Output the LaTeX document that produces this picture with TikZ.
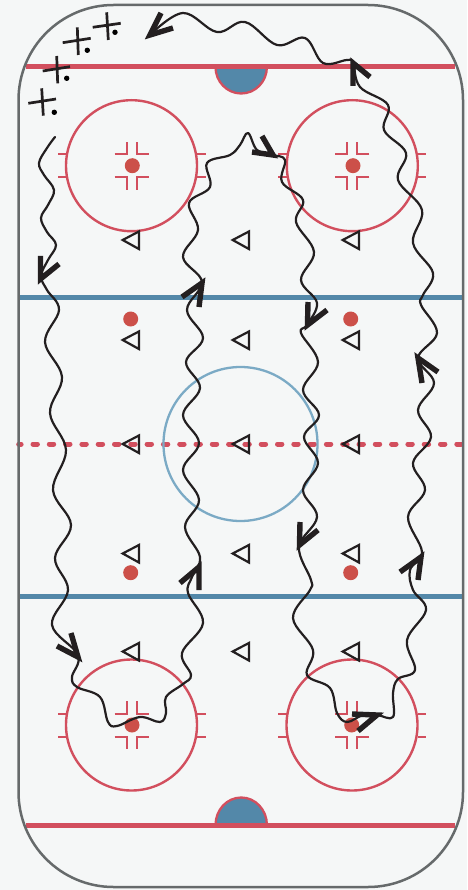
\documentclass[tikz,border=0pt]{standalone}
\definecolor{bgc}{HTML}{F5F7F7}
\definecolor{rinkedge}{HTML}{666A6B}
\definecolor{redl}{HTML}{D24F5E}
\definecolor{bluel}{HTML}{5388A9}
\definecolor{bluec}{HTML}{7BAAC5}
\definecolor{dotc}{HTML}{CC5049}
\definecolor{ink}{HTML}{231F20}
\tikzset{
  rink/.style={draw=rinkedge,line width=2.5pt,rounded corners=95pt},
  redline/.style={draw=redl,line width=5pt},
  blueline/.style={draw=bluel,line width=5pt},
  centerdash/.style={draw=redl,line width=5pt,line cap=round,dash pattern=on 4.4pt off 11.9pt,dash phase=2pt},
  crease/.style={draw=redl,fill=bluel,line width=2.3pt},
  fcircle/.style={draw=redl,line width=2.4pt},
  hash/.style={draw=redl,line width=2pt},
  rdot/.style={fill=dotc},
  tri/.style={draw=ink,line width=2.2pt,miter limit=10},
  wave/.style={draw=ink,line width=2.2pt,line cap=round,line join=round},
  thickwave/.style={draw=ink,line width=3pt,line cap=round,line join=round},
  barb/.style={draw=ink,line width=5.4pt,line join=miter,miter limit=10},
  crossl/.style={draw=ink,line width=2.7pt},
}
\begin{document}
\begin{tikzpicture}[x=1pt,y=-1pt]
\useasboundingbox (0,0) rectangle (467,890);
\fill[bgc] (0,0) rectangle (467,890);
% goal creases
\draw[crease] (215.5,67) arc[start angle=180,end angle=360,x radius=25.7pt,y radius=26.5pt] -- cycle;
\draw[crease] (215.5,825) arc[start angle=180,end angle=360,x radius=25.7pt,y radius=-27.5pt] -- cycle;
% lines
\draw[redline] (26,67) -- (455,67);
\draw[redline] (26,825) -- (455,825);
\draw[blueline] (19,297) -- (463,297);
\draw[blueline] (19,596) -- (463,596);
\draw[centerdash] (18.7,444) -- (467,444);
\draw[bluec,line width=2.3pt] (240.5,444) circle[radius=77pt];
% rink
\draw[rink] (18.5,5) rectangle (463,887);
% face-off circles
\foreach \cx/\cy in {131.5/165.7,352.3/165.7,131.5/725,352/725}{
  \draw[fcircle] (\cx,\cy) circle[radius=65.5pt];
  \foreach \sx in {-1,1}{
    \foreach \sy in {-1,1}{
      \draw[hash] ([xshift=\sx*65.5pt,yshift=\sy*-11.5pt]\cx pt,-\cy pt) -- ([xshift=\sx*74pt,yshift=\sy*-11.5pt]\cx pt,-\cy pt);
      \draw[hash] ([xshift=\sx*17pt,yshift=\sy*-11.5pt]\cx pt,-\cy pt) -- ([xshift=\sx*5pt,yshift=\sy*-11.5pt]\cx pt,-\cy pt) -- ([xshift=\sx*5pt,yshift=\sy*-24pt]\cx pt,-\cy pt);
    }
  }
}
% dots
\foreach \px/\py in {132.3/165.7,353/165.7,132/725,351.7/725,130.7/319,350.7/319,130.7/572.7,350.7/572.7}{
  \fill[rdot] (\px,\py) circle[radius=7.5pt];
}
% triangles
\foreach \ty in {240,340,444,553.5,651.5}{
  \foreach \tx in {122.7,232.7,342.7}{
    \draw[tri] (\tx,\ty) -- ++(16.2,-8.5) -- ++(0,17.5) -- cycle;
  }
}
% players
\draw[crossl] (28.3,103.3) -- (56,99) (41.7,88.3) -- (43.3,115.7);
\fill[black] (54.3,112.3) circle[radius=2.7pt];
\draw[crossl] (42.7,71) -- (70,66.7) (56.7,56) -- (57.7,83.3);
\fill[black] (66.7,78.3) circle[radius=2.7pt];
\draw[crossl] (62.7,42.7) -- (90.7,38.3) (77.3,27.3) -- (78.3,55);
\fill[black] (87.3,50.3) circle[radius=2.7pt];
\draw[crossl] (92.7,27.3) -- (120.7,23.3) (106.7,12.3) -- (108.3,40);
\fill[black] (115,32.3) circle[radius=2.7pt];
% skating path
\draw[wave] plot[smooth,tension=0.62] coordinates {
 (55,137) (47,148) (39,163) (44,175) (54,190) (48,205) (41,218) (47,232) (56,245) (48,260) (41,276)
 (47,290) (59,310) (45,342) (62,377) (50,413) (66,450) (53,490) (71,525) (55,558) (68,590)
 (52,625) (78,655) (72,677) (77,687) (100,697) (108,722) (117,726) (140,717) (160,722) (166,713) (166,697)
 (183,684) (191,675) (182,653) (203,623) (188,593) (192,577) (200,557) (185,527) (199,500) (183,470) (199,443)
 (183,415) (200,388) (186,362) (203,338) (187,310) (202,282) (183,257) (198,230) (189,203) (210,187)
 (207,163) (230,155) (240,145) (248,133) (257,150) (273,155) (285,160) (282,182) (303,200) (296,222) (314,252) (301,280)
 (317,303) (307,325) (301,333) (318,362) (303,390) (319,415) (304,437) (318,463) (303,490) (317,517) (299,547)
 (311,580) (310,590) (293,618) (313,650) (307,675) (330,688) (337,713) (347,722) (363,715) (377,715)
 (393,717) (393,693) (398,679) (415,670) (407,640) (426,610) (413,590) (410,570) (422,552) (408,517)
 (425,490) (413,463) (431,437) (418,410) (434,383) (418,358) (437,333) (421,305) (423,295) (433,273) (413,243)
 (422,210) (398,180) (406,153) (384,130) (388,105) (360,87) (353,63) (347,60) (323,63) (305,38) (277,45) (245,22)
 (217,32) (183,13) (150,35)
};
% arrow barbs
\foreach \ax/\ay/\tx/\ty/\bx/\by in {
 40.5/256/40.5/279/59/264,
 71/633/78/657/57/646,
 199/590/199/567/180/583,
 199/307/202/283/182/297,
 262/136/273/155/252/152,
 308/302/307.5/325/327/310,
 300/522/299.5/545/318/530,
 358/731/377/715/352/714,
 418/580/421/557/400/572,
 422/383/418/358/438/372,
 353/86/353/63/370/77,
 161/13/150/35/173/28}{
  \draw[barb] (\ax,\ay) -- (\tx,\ty) -- (\bx,\by);
}
\end{tikzpicture}
\end{document}
